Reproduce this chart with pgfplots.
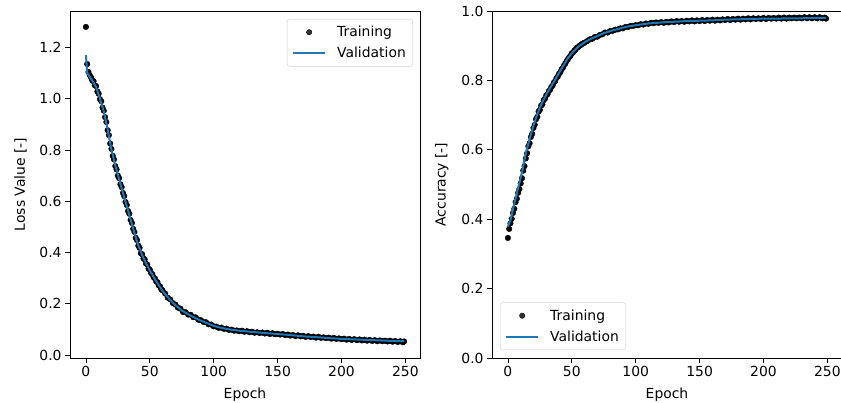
\documentclass[border=0pt]{standalone}
\usepackage{fontspec}
\setmainfont{DejaVu Sans}
\usepackage{pgfplots}
\pgfplotsset{compat=1.18}
\definecolor{mplblue}{HTML}{1F77B4}
\newcommand{\fs}{\fontsize{13.9}{16.7}\selectfont}
\begin{document}
\begin{tikzpicture}
\useasboundingbox (0,0) rectangle (841pt,402pt);
\pgfplotsset{
  every axis/.append style={
    scale only axis, width=350pt, height=347pt,
    anchor=south west,
    clip marker paths=true,
    axis line style={line width=0.8pt},
    tick style={line width=0.8pt, black},
    major tick length=4.9pt,
    tick align=outside,
    xtick pos=bottom, ytick pos=left,
    ticklabel style={font=\fs},
    label style={font=\fs},
    /pgf/number format/assume math mode=true,
    xmin=-12.45, xmax=261.45,
    xtick={0,50,100,150,200,250},
    yticklabel style={/pgf/number format/fixed, /pgf/number format/fixed zerofill, /pgf/number format/precision=1},
    xlabel={Epoch},
    xlabel shift=4.5pt,
    ylabel shift=6pt,
    legend cell align=left,
    legend style={font=\fs, draw=black!20, rounded corners=2.5pt, fill=white, fill opacity=0.8, text opacity=1,
      row sep=5pt, inner xsep=5pt, inner ysep=5pt,
      /tikz/every odd column/.append style={column sep=9pt}},
  }
}
\begin{axis}[
  at={(70pt,44pt)},
  ymin=-0.0115, ymax=1.342,
  ytick={0,0.2,0.4,0.6,0.8,1.0,1.2},
  ylabel={Loss Value [-]},
  legend style={at={(1,1)}, anchor=north east, xshift=-7pt, yshift=-8pt},
]
\addplot[only marks, mark=*, mark size=2.8pt, black,
  legend image code/.code={\fill[black] (16pt,0pt) circle (2.7pt);}] coordinates {
(0,1.280)(1,1.135)(2,1.104)(3,1.092)(4,1.083)(5,1.071)(6,1.068)(7,1.052)(8,1.049)(9,1.028)
(10,1.019)(11,0.998)(12,0.990)(13,0.965)(14,0.953)(15,0.928)(16,0.909)(17,0.877)(18,0.858)(19,0.825)
(20,0.804)(21,0.777)(22,0.763)(23,0.737)(24,0.724)(25,0.700)(26,0.690)(27,0.666)(28,0.655)(29,0.632)
(30,0.620)(31,0.597)(32,0.585)(33,0.562)(34,0.551)(35,0.527)(36,0.515)(37,0.492)(38,0.480)(39,0.457)
(40,0.448)(41,0.427)(42,0.418)(43,0.397)(44,0.393)(45,0.377)(46,0.373)(47,0.357)(48,0.353)(49,0.337)
(50,0.333)(51,0.320)(52,0.315)(53,0.303)(54,0.299)(55,0.287)(56,0.284)(57,0.272)(58,0.268)(59,0.256)
(60,0.252)(62,0.240)(64,0.224)(66,0.217)(68,0.203)(70,0.197)(72,0.185)(74,0.181)(76,0.168)(78,0.167)
(80,0.158)(82,0.157)(84,0.148)(86,0.147)(88,0.138)(90,0.136)(92,0.129)(94,0.128)(96,0.120)(98,0.119)
(100,0.112)(102,0.111)(104,0.106)(106,0.107)(108,0.102)(110,0.103)(112,0.098)(114,0.099)(116,0.095)(118,0.096)
(120,0.093)(122,0.095)(124,0.091)(126,0.093)(128,0.089)(130,0.091)(132,0.087)(134,0.089)(136,0.086)(138,0.088)
(140,0.084)(142,0.087)(144,0.082)(146,0.085)(148,0.081)(150,0.083)(152,0.080)(154,0.082)(156,0.078)(158,0.080)
(160,0.076)(162,0.078)(164,0.074)(166,0.077)(168,0.073)(170,0.075)(172,0.071)(174,0.074)(176,0.070)(178,0.072)
(180,0.068)(182,0.071)(184,0.067)(186,0.069)(188,0.066)(190,0.068)(192,0.064)(194,0.067)(196,0.063)(198,0.065)
(200,0.062)(202,0.064)(204,0.060)(206,0.063)(208,0.059)(210,0.062)(212,0.058)(214,0.061)(216,0.057)(218,0.060)
(220,0.056)(222,0.059)(224,0.055)(226,0.058)(228,0.054)(230,0.057)(232,0.054)(234,0.056)(236,0.053)(238,0.056)
(240,0.052)(242,0.055)(244,0.051)(246,0.054)(248,0.050)(249,0.053)
};
\addlegendentry{Training}
\addplot[mplblue, line width=2pt, no marks,
  legend image code/.code={\draw[mplblue, line width=2pt] (0pt,0pt) -- (32pt,0pt);}] coordinates {
(0,1.170)(1,1.100)(3,1.085)(5,1.070)(8,1.045)(11,1.000)(14,0.950)(17,0.880)(20,0.800)(23,0.740)
(26,0.685)(29,0.632)(32,0.580)(35,0.528)(38,0.475)(41,0.428)(44,0.390)(47,0.358)(50,0.330)(55,0.288)
(60,0.250)(65,0.220)(70,0.195)(75,0.174)(80,0.159)(85,0.146)(90,0.134)(95,0.124)(100,0.114)(105,0.107)
(110,0.102)(115,0.098)(120,0.095)(130,0.090)(140,0.086)(150,0.082)(160,0.078)(170,0.073)(180,0.070)(190,0.066)
(200,0.063)(210,0.061)(220,0.059)(230,0.057)(240,0.055)(249,0.054)
};
\addlegendentry{Validation}
\end{axis}
\begin{axis}[
  at={(492pt,44pt)},
  ymin=0, ymax=1,
  ytick={0,0.2,0.4,0.6,0.8,1.0},
  ylabel={Accuracy [-]},
  legend style={at={(0,0)}, anchor=south west, xshift=8pt, yshift=8pt},
]
\addplot[only marks, mark=*, mark size=2.8pt, black,
  legend image code/.code={\fill[black] (16pt,0pt) circle (2.7pt);}] coordinates {
(0,0.346)(1,0.372)(2,0.388)(3,0.401)(4,0.418)(5,0.430)(6,0.449)(7,0.459)(8,0.476)(9,0.487)
(10,0.503)(11,0.518)(12,0.540)(13,0.553)(14,0.575)(15,0.590)(16,0.610)(17,0.619)(18,0.637)(19,0.646)
(20,0.663)(21,0.672)(22,0.688)(23,0.695)(24,0.710)(25,0.715)(26,0.727)(27,0.731)(28,0.743)(29,0.747)
(30,0.757)(31,0.760)(32,0.769)(33,0.773)(34,0.781)(35,0.785)(36,0.794)(37,0.798)(38,0.807)(39,0.811)
(40,0.819)(41,0.824)(42,0.832)(43,0.836)(44,0.844)(45,0.849)(46,0.856)(47,0.861)(48,0.867)(49,0.871)
(50,0.878)(51,0.881)(52,0.886)(53,0.889)(54,0.894)(55,0.896)(56,0.900)(57,0.902)(58,0.905)(59,0.907)
(60,0.909)(62,0.913)(64,0.918)(66,0.920)(68,0.925)(70,0.926)(72,0.931)(74,0.933)(76,0.938)(78,0.938)
(80,0.942)(82,0.943)(84,0.946)(86,0.947)(88,0.950)(90,0.950)(92,0.954)(94,0.954)(96,0.957)(98,0.957)
(100,0.959)(102,0.959)(104,0.962)(106,0.961)(108,0.964)(110,0.963)(112,0.966)(114,0.965)(116,0.967)(118,0.966)
(120,0.968)(122,0.966)(124,0.969)(126,0.967)(128,0.970)(130,0.968)(132,0.971)(134,0.969)(136,0.971)(138,0.969)
(140,0.972)(142,0.970)(144,0.973)(146,0.970)(148,0.973)(150,0.971)(152,0.974)(154,0.971)(156,0.974)(158,0.972)
(160,0.975)(162,0.972)(164,0.975)(166,0.973)(168,0.976)(170,0.974)(172,0.977)(174,0.974)(176,0.977)(178,0.975)
(180,0.978)(182,0.975)(184,0.978)(186,0.976)(188,0.979)(190,0.976)(192,0.979)(194,0.977)(196,0.979)(198,0.977)
(200,0.980)(202,0.977)(204,0.980)(206,0.978)(208,0.980)(210,0.978)(212,0.981)(214,0.978)(216,0.981)(218,0.978)
(220,0.981)(222,0.979)(224,0.981)(226,0.979)(228,0.981)(230,0.979)(232,0.982)(234,0.979)(236,0.982)(238,0.979)
(240,0.982)(242,0.979)(244,0.982)(246,0.979)(248,0.981)(249,0.978)
};
\addlegendentry{Training}
\addplot[mplblue, line width=2pt, no marks,
  legend image code/.code={\draw[mplblue, line width=2pt] (0pt,0pt) -- (32pt,0pt);}] coordinates {
(0,0.379)(2,0.398)(5,0.445)(8,0.490)(11,0.535)(14,0.590)(17,0.632)(20,0.670)(23,0.703)(26,0.730)
(29,0.752)(32,0.772)(35,0.790)(38,0.809)(41,0.828)(44,0.846)(47,0.864)(50,0.878)(55,0.897)(60,0.910)
(65,0.920)(70,0.928)(75,0.936)(80,0.942)(85,0.947)(90,0.952)(95,0.956)(100,0.959)(110,0.964)(120,0.967)
(130,0.969)(140,0.971)(150,0.972)(160,0.973)(170,0.975)(180,0.976)(190,0.977)(200,0.978)(210,0.978)(220,0.979)
(230,0.979)(240,0.980)(249,0.980)
};
\addlegendentry{Validation}
\end{axis}
\end{tikzpicture}
\end{document}
